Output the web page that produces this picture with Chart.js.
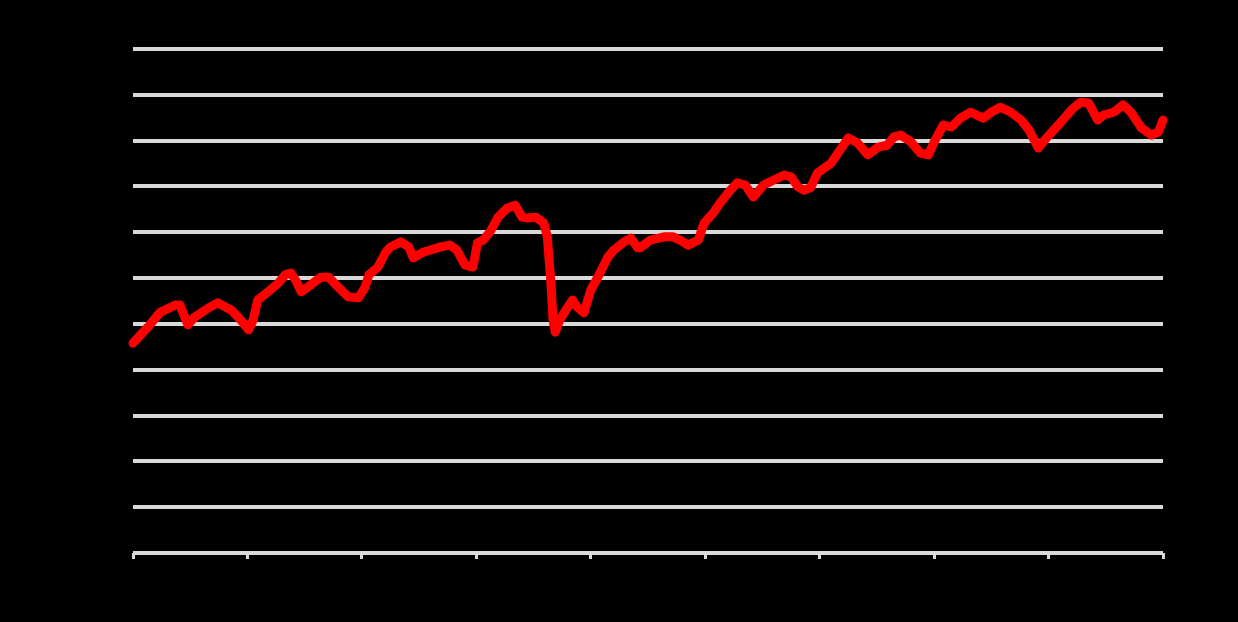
<!DOCTYPE html>
<html>
<head>
<meta charset="utf-8">
<script src="https://cdn.jsdelivr.net/npm/chart.js@4/dist/chart.umd.min.js"></script>
<style>
  html, body { margin: 0; padding: 0; background: #000; }
  #wrap { width: 1238px; height: 622px; }
</style>
</head>
<body>
<div id="wrap"><canvas id="c" width="1238" height="622"></canvas></div>
<script>
// Tick labels (drawn in black on black, as in the reference)
const xTickLabels = ['2014','2015','2016','2017','2018','2019','2020','2021','2022','2023'];
const yTickStep = 10;
const yMin = 0;
const yMax = 110;

// Series positions along the x axis (in tick units) and values
const xPositions = [
  0.00,0.13,0.24,0.37,0.41,0.48,0.54,0.66,0.74,0.86,0.94,1.01,1.05,1.09,1.18,1.27,1.33,1.38,1.42,1.47,
  1.53,1.64,1.71,1.79,1.88,1.97,2.03,2.06,2.14,2.21,2.25,2.34,2.41,2.45,2.54,2.69,2.77,2.83,2.90,2.97,
  3.01,3.06,3.12,3.19,3.27,3.34,3.40,3.45,3.52,3.59,3.62,3.65,3.67,3.69,3.73,3.80,3.84,3.88,3.94,4.00,
  4.08,4.15,4.20,4.29,4.35,4.41,4.43,4.52,4.64,4.72,4.78,4.85,4.94,4.99,5.07,5.13,5.22,5.28,5.35,5.42,
  5.51,5.60,5.69,5.75,5.81,5.86,5.92,5.98,6.10,6.18,6.25,6.33,6.42,6.51,6.59,6.65,6.71,6.80,6.88,6.95,
  7.00,7.08,7.15,7.23,7.32,7.43,7.50,7.58,7.67,7.76,7.83,7.91,7.99,8.11,8.20,8.28,8.35,8.43,8.48,8.57,
  8.65,8.72,8.81,8.90,8.96,9.00
];
const seriesValues = [
  45.8,49.3,52.6,54.1,54.1,49.8,51.5,53.5,54.6,53.0,50.9,48.7,50.9,55.2,57.0,58.9,60.7,61.1,59.6,57.0,
  58.1,60.2,60.2,58.1,55.9,55.7,58.1,60.7,62.4,65.7,66.8,67.9,66.8,64.4,65.7,66.8,67.2,66.1,62.9,62.4,
  67.7,68.3,70.1,73.3,75.3,75.9,73.3,73.1,73.3,72.0,69.0,59.6,50.9,48.2,50.9,53.7,55.2,53.7,52.4,57.4,
  61.1,64.6,66.1,67.9,68.7,66.6,66.6,68.3,69.0,69.0,68.3,67.2,68.3,72.0,74.2,76.4,79.2,80.8,80.3,77.7,
  80.3,81.4,82.5,82.1,79.9,79.2,79.7,82.9,85.1,88.0,90.6,89.5,86.9,88.6,89.0,90.8,91.2,89.7,87.3,86.9,
  89.7,93.4,93.0,94.9,96.2,94.9,96.2,97.3,96.2,94.5,92.3,88.4,90.8,94.1,96.7,98.4,98.2,94.5,95.6,96.2,
  97.8,96.2,92.8,91.2,91.9,94.5
];

const points = xPositions.map((x, i) => ({ x: x, y: seriesValues[i] }));

const bgPlugin = {
  id: 'bg',
  beforeDraw(chart) {
    const ctx = chart.ctx;
    ctx.save();
    ctx.fillStyle = '#000000';
    ctx.fillRect(0, 0, chart.width, chart.height);
    ctx.restore();
  }
};

new Chart(document.getElementById('c'), {
  type: 'line',
  data: {
    datasets: [{
      data: points,
      borderColor: '#ff0000',
      borderWidth: 9,
      pointRadius: 0,
      tension: 0,
      borderJoinStyle: 'round',
      borderCapStyle: 'round',
      clip: false,
      fill: false
    }]
  },
  options: {
    responsive: false,
    animation: false,
    layout: { padding: { top: 49, right: 75, left: 0, bottom: 0 } },
    plugins: { legend: { display: false }, tooltip: { enabled: false } },
    scales: {
      x: {
        type: 'linear',
        min: 0,
        max: xTickLabels.length - 1,
        afterFit(scale) { scale.height = 69; },
        afterBuildTicks(scale) {
          scale.ticks = xTickLabels.map((_, i) => ({ value: i }));
        },
        ticks: {
          color: '#000000',
          font: { family: 'Liberation Sans', size: 14 },
          callback: (v) => xTickLabels[v] ?? ''
        },
        grid: {
          drawOnChartArea: false,
          drawTicks: true,
          tickLength: 6,
          tickWidth: 3,
          tickColor: '#d9d9d9',
          color: '#d9d9d9',
          lineWidth: 3
        },
        border: { display: false }
      },
      y: {
        min: yMin,
        max: yMax,
        afterFit(scale) { scale.width = 133; },
        ticks: {
          stepSize: yTickStep,
          color: '#000000',
          font: { family: 'Liberation Sans', size: 14 }
        },
        grid: {
          color: '#d9d9d9',
          lineWidth: 4,
          drawTicks: false
        },
        border: { display: false }
      }
    }
  },
  plugins: [bgPlugin]
});
</script>
</body>
</html>
